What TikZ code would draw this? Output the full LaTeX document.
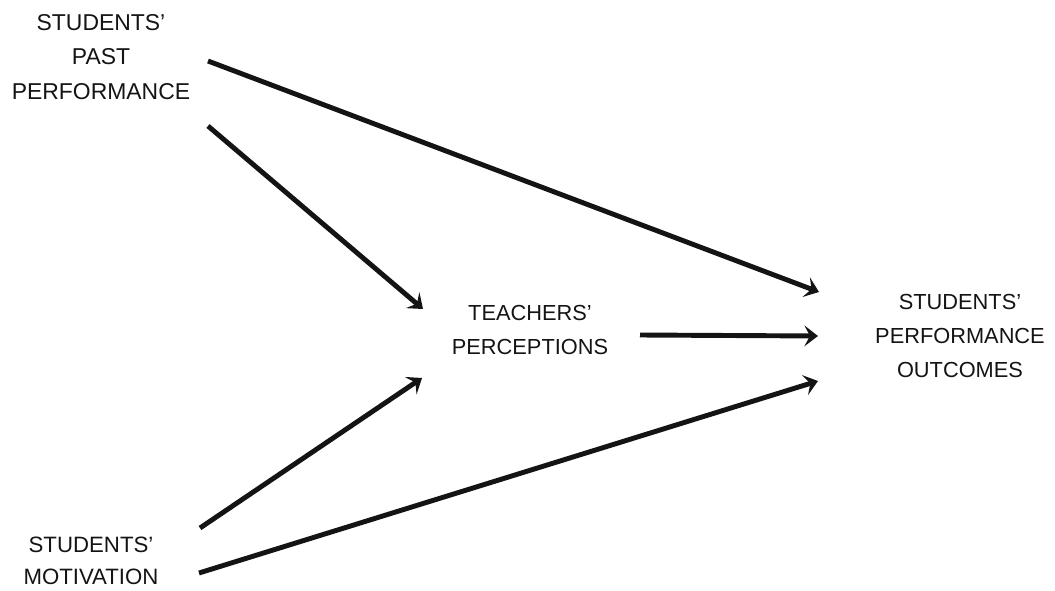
\documentclass[tikz,border=0pt]{standalone}
\usepackage{fontspec}
\setmainfont{Liberation Sans}
\usetikzlibrary{arrows.meta,calc}
\colorlet{ink}{black!92}

\begin{document}
\begin{tikzpicture}[x=0.025cm, y=-0.025cm,
  box/.style={align=center, inner sep=0pt, ink, font=\fontsize{15.5}{24}\selectfont},
  link/.style={ink, line width=3.5pt, -{Stealth[length=0.34cm, width=0.52cm, inset=0.14cm]}}]
  \useasboundingbox (0,0) rectangle (1055,591);
\node[box, font=\fontsize{16.3}{24.5}\selectfont] (past) at (101,57) {STUDENTS'\\PAST\\PERFORMANCE};
\node[box, font=\fontsize{15.8}{22.5}\selectfont] (motiv) at (91,561) {STUDENTS'\\MOTIVATION};
\node[box] (teach) at (530,330) {TEACHERS'\\PERCEPTIONS};
\node[box] (outc) at (960,336) {STUDENTS'\\PERFORMANCE\\OUTCOMES};
% paths into the outcomes
\draw[link] ($(past)+(107,4)$) -- ($(outc)+(-141,-44)$);
\draw[link] ($(teach)+(110,5)$) -- ($(outc)+(-142,0)$);
\draw[link] ($(motiv)+(108,12)$) -- ($(outc)+(-142,45)$);
% paths into the perceptions
\draw[link] ($(past)+(107,69)$) -- ($(teach)+(-107,-21)$);
\draw[link] ($(motiv)+(109,-33)$) -- ($(teach)+(-108,48)$);
\end{tikzpicture}
\end{document}
